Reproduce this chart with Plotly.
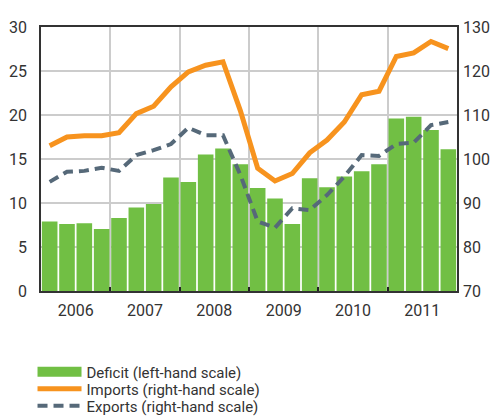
import plotly.graph_objects as go

quarters = [f"{y}Q{q}" for y in range(2006, 2012) for q in range(1, 5)]
years = ["2006", "2007", "2008", "2009", "2010", "2011"]

deficit = [7.9, 7.6, 7.7, 7.05, 8.3, 9.5, 9.9, 12.9, 12.4, 15.5, 16.2, 14.4,
           11.7, 10.5, 7.6, 12.8, 11.8, 13.0, 13.6, 14.4, 19.6, 19.8, 18.3, 16.1]
imports = [103.0, 105.0, 105.3, 105.3, 106.0, 110.3, 112.0, 116.4, 119.8, 121.3, 122.1, 111.0,
           97.9, 95.0, 96.7, 101.4, 104.3, 108.4, 114.6, 115.4, 123.3, 124.1, 126.7, 125.1]
exports = [94.8, 97.1, 97.3, 98.0, 97.3, 100.9, 102.0, 103.4, 107.1, 105.4, 105.4, 96.4,
           85.8, 84.4, 88.8, 88.4, 91.8, 96.0, 100.9, 100.7, 103.4, 103.7, 107.7, 108.4]

x = list(range(len(quarters)))
year_centers = [i * 4 + 1.5 for i in range(len(years))]
year_bounds = [i * 4 - 0.5 for i in range(1, len(years))]

GREEN = "#71bf44"
ORANGE = "#f7931e"
SLATE = "#566979"
FONT = "Roboto, sans-serif"

fig = go.Figure()
fig.add_trace(go.Bar(x=x, y=deficit, marker=dict(color=GREEN, line=dict(width=0)),
                     name="Deficit (left-hand scale)", showlegend=False,
                     legendgroup="d", yaxis="y"))
# legend key for the deficit bars
fig.add_trace(go.Scatter(x=[None], y=[None], mode="lines", line=dict(color=GREEN, width=12),
                         name="Deficit (left-hand scale)", legendgroup="d", yaxis="y",
                         legend="legend"))
fig.add_trace(go.Scatter(x=x, y=imports, mode="lines", line=dict(color=ORANGE, width=5),
                         name="Imports (right-hand scale)", yaxis="y2", legend="legend2"))
fig.add_trace(go.Scatter(x=x, y=exports, mode="lines",
                         line=dict(color=SLATE, width=4, dash="10px,6px"),
                         name="Exports (right-hand scale)", yaxis="y2", legend="legend3"))

leg_common = dict(orientation="v", x=-0.0204, xanchor="left", yanchor="middle",
                  font=dict(size=15, color="#333333"), itemwidth=44,
                  bgcolor="rgba(0,0,0,0)")

fig.update_layout(
    width=490, height=420,
    margin=dict(l=41, r=33, t=27, b=129, autoexpand=False),
    paper_bgcolor="white", plot_bgcolor="white",
    font=dict(family=FONT, size=16, color="#333333"),
    bargap=0.1,
    showlegend=True,
    legend=dict(y=-0.307, **leg_common),
    legend2=dict(y=-0.371, **leg_common),
    legend3=dict(y=-0.436, **leg_common),
    xaxis=dict(range=[-0.5, 23.5], tickmode="array", tickvals=year_centers, ticktext=years,
               ticks="", showgrid=False, showline=True, linecolor="#333333", linewidth=1.5,
               mirror=True, zeroline=False, ticklabelstandoff=4,
               minor=dict(tickmode="array", tickvals=year_bounds, showgrid=True,
                          gridcolor="#cccccc", gridwidth=1.5, ticks="inside",
                          ticklen=4, tickcolor="#222222", tickwidth=2)),
    yaxis=dict(range=[0, 30], dtick=5, showgrid=True, gridcolor="#cccccc", gridwidth=1.5,
               zeroline=False, showline=True, linecolor="#333333", linewidth=1.5,
               ticks="", ticklabelstandoff=9),
    yaxis2=dict(range=[70, 130], dtick=10, overlaying="y", side="right", showgrid=False,
                zeroline=False, showline=True, linecolor="#333333", linewidth=1.5,
                ticks="", ticklabelstandoff=1),
)

# remove the default 8px page margin so the 490x420 figure fills the window
fig.write_html("out.html",
               config={"displayModeBar": False},
               post_script="document.body.style.margin='0';document.body.style.overflow='hidden';")
